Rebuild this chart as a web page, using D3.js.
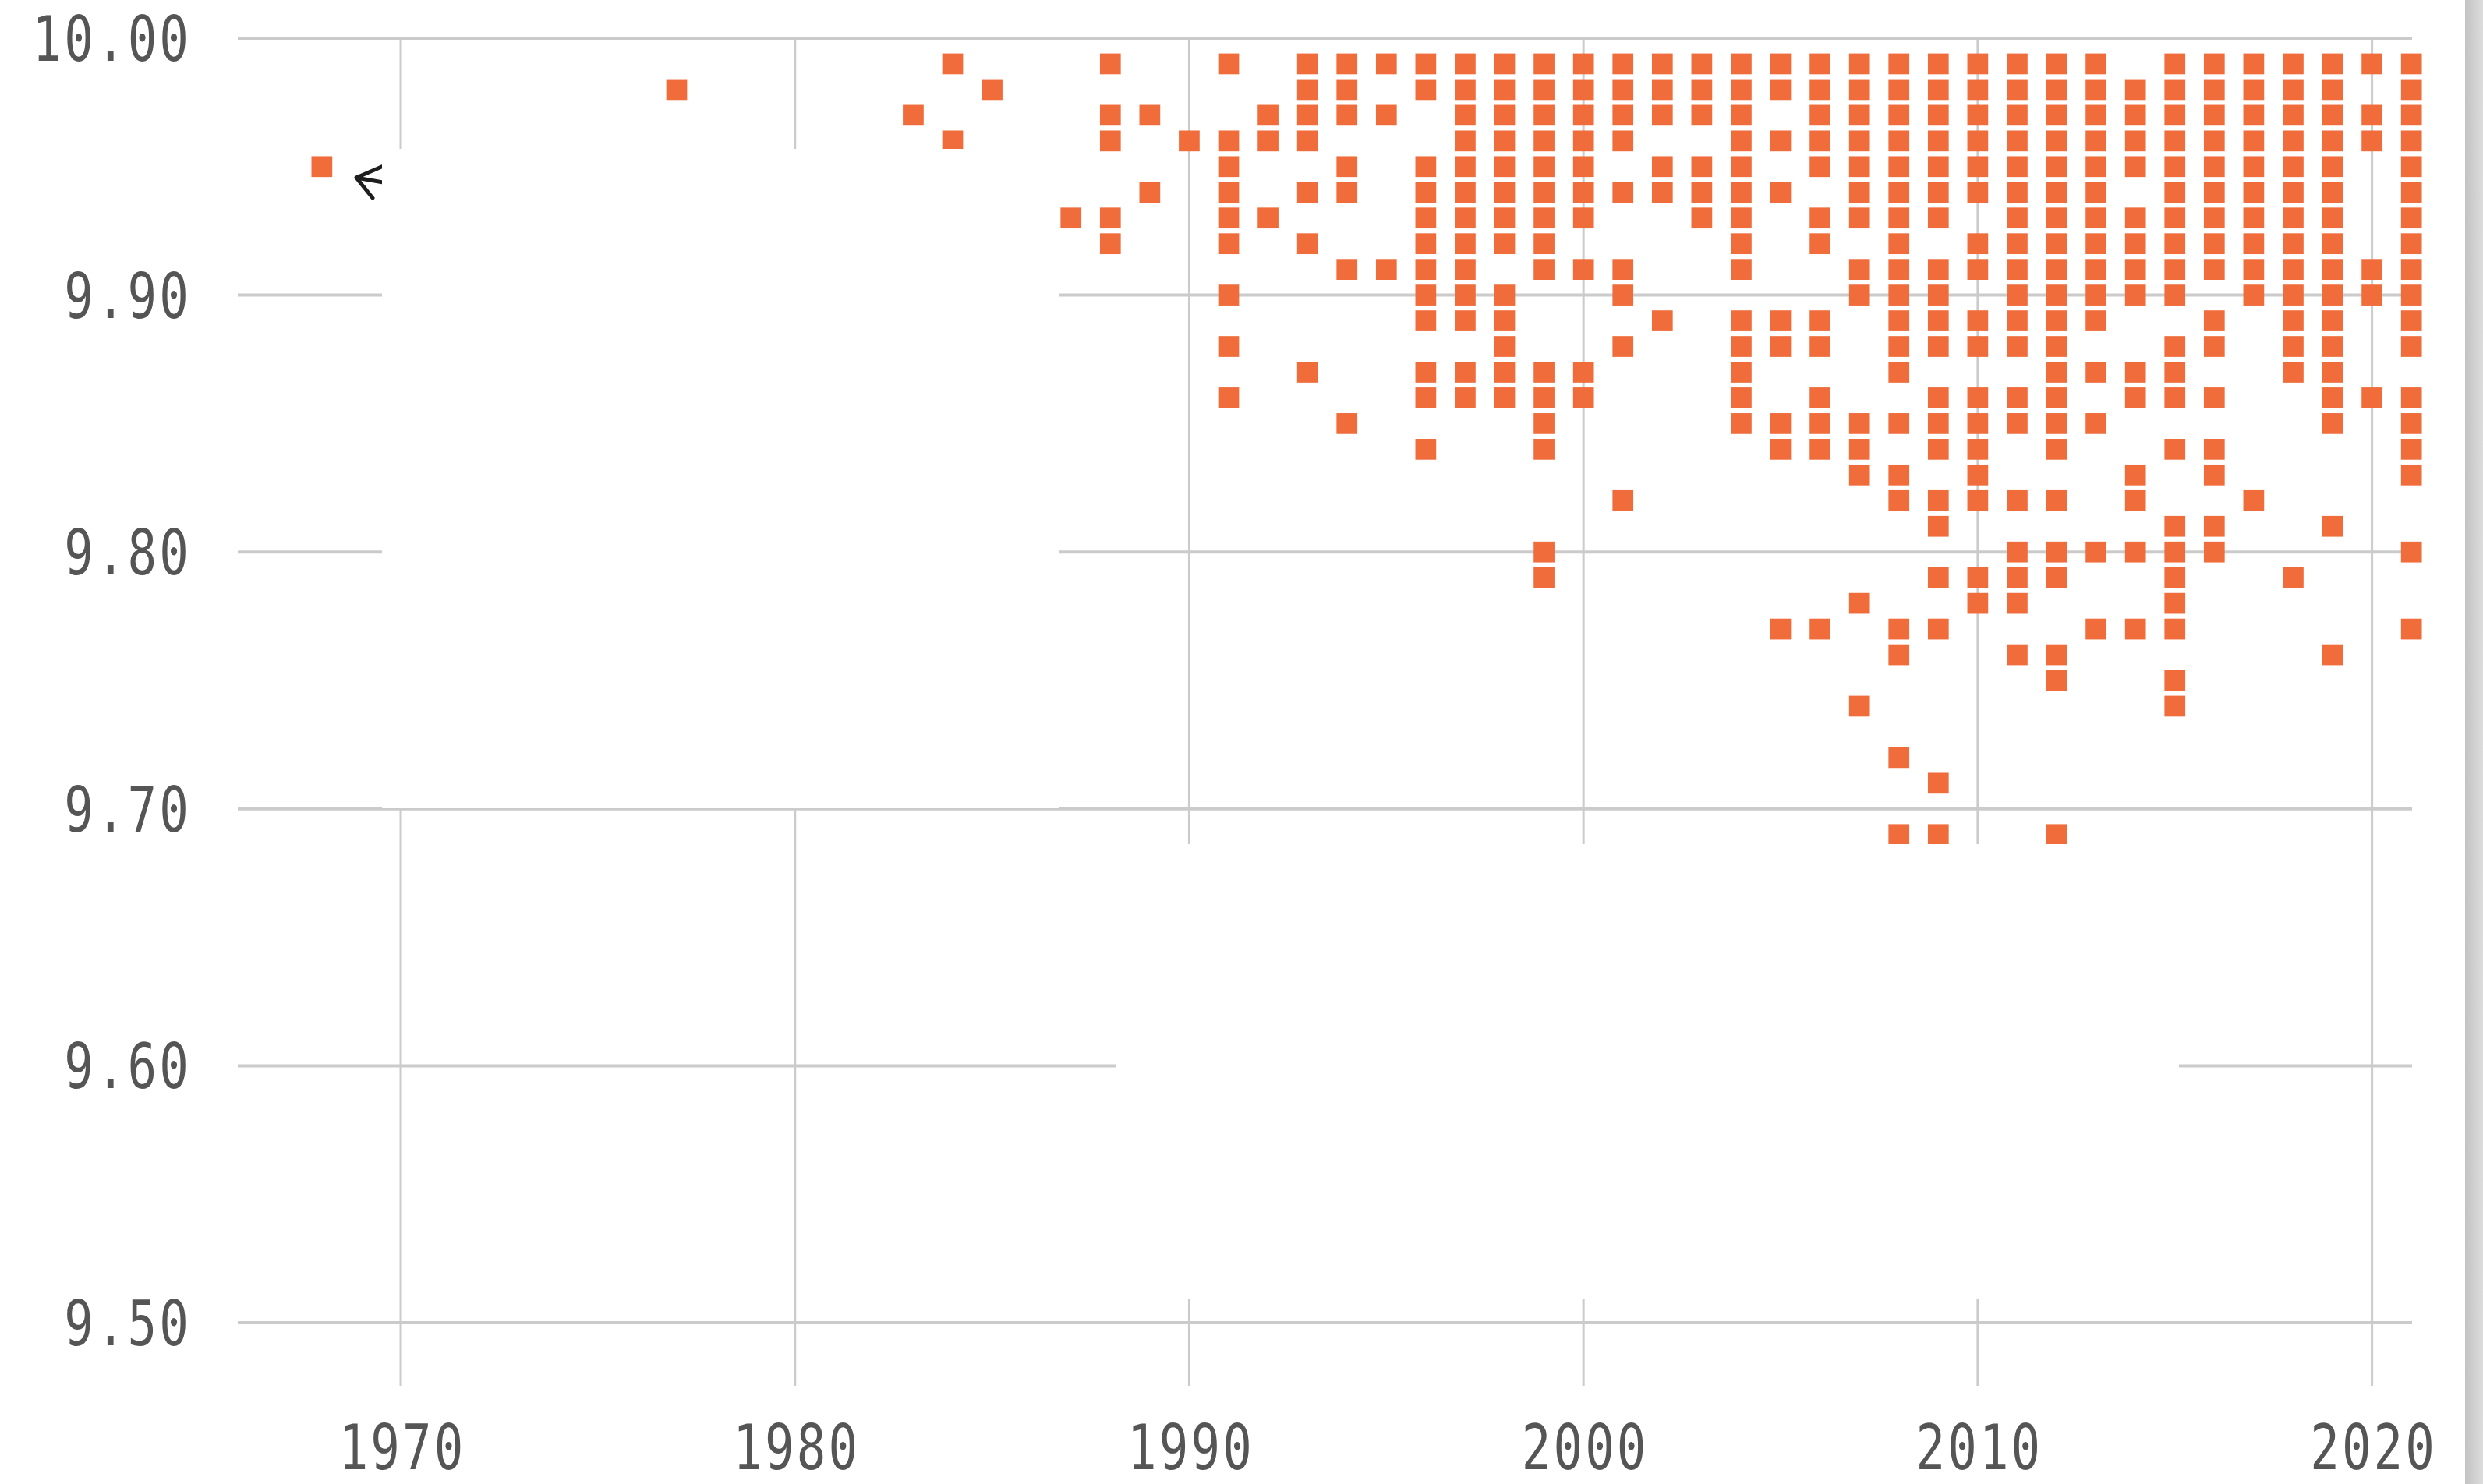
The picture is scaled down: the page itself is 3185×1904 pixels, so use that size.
<!DOCTYPE html>
<html>
<head>
<meta charset="utf-8">
<script src="https://cdn.jsdelivr.net/npm/d3@7/dist/d3.min.js"></script>
<style>
  body { margin: 0; background: #fff; }
  svg { display: block; }
  .label { font-family: "DejaVu Sans Mono", monospace; font-size: 80px; fill: #555; letter-spacing: 4px; }
  .grid line { stroke: #cbcbcb; }
</style>
</head>
<body>
<div id="chart"></div>
<script>
// sub-10 second times, one square per distinct time per year
var years = [1968, 1977, 1983, 1984, 1985, 1987, 1988, 1989, 1990, 1991, 1992, 1993, 1994, 1995,
  1996, 1997, 1998, 1999, 2000, 2001, 2002, 2003, 2004, 2005, 2006, 2007, 2008, 2009, 2010,
  2011, 2012, 2013, 2014, 2015, 2016, 2017, 2018, 2019, 2020, 2021];

var times = [
  [9.95],
  [9.98],
  [9.97],
  [9.99, 9.96],
  [9.98],
  [9.93],
  [9.99, 9.97, 9.96, 9.93, 9.92],
  [9.97, 9.94],
  [9.96],
  [9.99, 9.96, 9.95, 9.94, 9.93, 9.92, 9.90, 9.88, 9.86],
  [9.97, 9.96, 9.93],
  [9.99, 9.98, 9.97, 9.96, 9.94, 9.92, 9.87],
  [9.99, 9.98, 9.97, 9.95, 9.94, 9.91, 9.85],
  [9.99, 9.97, 9.91],
  [9.99, 9.98, 9.95, 9.94, 9.93, 9.92, 9.91, 9.90, 9.89, 9.87, 9.86, 9.84],
  [9.99, 9.98, 9.97, 9.96, 9.95, 9.94, 9.93, 9.92, 9.91, 9.90, 9.89, 9.87, 9.86],
  [9.99, 9.98, 9.97, 9.96, 9.95, 9.94, 9.93, 9.92, 9.90, 9.89, 9.88, 9.87, 9.86],
  [9.99, 9.98, 9.97, 9.96, 9.95, 9.94, 9.93, 9.92, 9.91, 9.87, 9.86, 9.85, 9.84, 9.80, 9.79],
  [9.99, 9.98, 9.97, 9.96, 9.95, 9.94, 9.93, 9.91, 9.87, 9.86],
  [9.99, 9.98, 9.97, 9.96, 9.94, 9.91, 9.90, 9.88, 9.82],
  [9.99, 9.98, 9.97, 9.95, 9.94, 9.89],
  [9.99, 9.98, 9.97, 9.95, 9.94, 9.93],
  [9.99, 9.98, 9.97, 9.96, 9.95, 9.94, 9.93, 9.92, 9.91, 9.89, 9.88, 9.87, 9.86, 9.85],
  [9.99, 9.98, 9.96, 9.94, 9.89, 9.88, 9.85, 9.84, 9.77],
  [9.99, 9.98, 9.97, 9.96, 9.95, 9.93, 9.92, 9.89, 9.88, 9.86, 9.85, 9.84, 9.77],
  [9.99, 9.98, 9.97, 9.96, 9.95, 9.94, 9.93, 9.91, 9.90, 9.85, 9.84, 9.83, 9.78, 9.74],
  [9.99, 9.98, 9.97, 9.96, 9.95, 9.94, 9.93, 9.92, 9.91, 9.90, 9.89, 9.88, 9.87, 9.85, 9.83, 9.82, 9.77, 9.76, 9.72, 9.69],
  [9.99, 9.98, 9.97, 9.96, 9.95, 9.94, 9.93, 9.91, 9.90, 9.89, 9.88, 9.86, 9.85, 9.84, 9.82, 9.81, 9.79, 9.77, 9.71, 9.69],
  [9.99, 9.98, 9.97, 9.96, 9.95, 9.94, 9.92, 9.91, 9.89, 9.88, 9.86, 9.85, 9.84, 9.83, 9.82, 9.79, 9.78],
  [9.99, 9.98, 9.97, 9.96, 9.95, 9.94, 9.93, 9.92, 9.91, 9.90, 9.89, 9.88, 9.86, 9.85, 9.82, 9.80, 9.79, 9.78, 9.76],
  [9.99, 9.98, 9.97, 9.96, 9.95, 9.94, 9.93, 9.92, 9.91, 9.90, 9.89, 9.88, 9.87, 9.86, 9.85, 9.84, 9.82, 9.80, 9.79, 9.76, 9.75, 9.69],
  [9.99, 9.98, 9.97, 9.96, 9.95, 9.94, 9.93, 9.92, 9.91, 9.90, 9.89, 9.87, 9.85, 9.80, 9.77],
  [9.98, 9.97, 9.96, 9.95, 9.93, 9.92, 9.91, 9.90, 9.87, 9.86, 9.83, 9.82, 9.80, 9.77],
  [9.99, 9.98, 9.97, 9.96, 9.95, 9.94, 9.93, 9.92, 9.91, 9.90, 9.88, 9.87, 9.86, 9.84, 9.81, 9.80, 9.79, 9.78, 9.77, 9.75, 9.74],
  [9.99, 9.98, 9.97, 9.96, 9.95, 9.94, 9.93, 9.92, 9.91, 9.89, 9.88, 9.86, 9.84, 9.83, 9.81, 9.80],
  [9.99, 9.98, 9.97, 9.96, 9.95, 9.94, 9.93, 9.92, 9.91, 9.90, 9.82],
  [9.99, 9.98, 9.97, 9.96, 9.95, 9.94, 9.93, 9.92, 9.91, 9.90, 9.89, 9.88, 9.87, 9.79],
  [9.99, 9.98, 9.97, 9.96, 9.95, 9.94, 9.93, 9.92, 9.91, 9.90, 9.89, 9.88, 9.87, 9.86, 9.85, 9.81, 9.76],
  [9.99, 9.97, 9.96, 9.91, 9.90, 9.86],
  [9.99, 9.98, 9.97, 9.96, 9.95, 9.94, 9.93, 9.92, 9.91, 9.90, 9.89, 9.88, 9.86, 9.85, 9.84, 9.83, 9.80, 9.77]
];

var yTicks = [10.00, 9.90, 9.80, 9.70, 9.60, 9.50];
var xTicks = [1970, 1980, 1990, 2000, 2010, 2020];

var width = 3185, height = 1904;
var left = 305, right = 3094;

var svg = d3.select("#chart").append("svg")
    .attr("width", width)
    .attr("height", height);

var x = d3.scaleLinear().domain([1970, 2020]).range([514, 3042.6]);
var y = d3.scaleLinear().domain([9.5, 10]).range([1697, 49]);
var fmt = d3.format(".2f");

// flatten into points
var points = [];
years.forEach(function(yr, i) {
    times[i].forEach(function(t) { points.push({year: yr, time: t}); });
});

var grid = svg.append("g").attr("class", "grid");

grid.selectAll(".vline")
    .data(xTicks)
    .enter().append("line")
    .attr("x1", d => x(d)).attr("x2", d => x(d))
    .attr("y1", y(10)).attr("y2", 1778)
    .attr("stroke-width", 3);

grid.selectAll(".hline")
    .data(yTicks)
    .enter().append("line")
    .attr("x1", left).attr("x2", right)
    .attr("y1", d => y(d)).attr("y2", d => y(d))
    .attr("stroke-width", 4);

// arrow next to the 1968 mark
svg.append("path")
    .attr("d", "M457,228 L560,246 M457,228 L494,212 M457,228 L478,254")
    .attr("fill", "none")
    .attr("stroke", "#1e1e1e")
    .attr("stroke-width", 5)
    .attr("stroke-linecap", "round");

var sz = 26.7;
svg.append("g").selectAll("rect")
    .data(points)
    .enter().append("rect")
    .attr("x", d => x(d.year) - sz / 2)
    .attr("y", d => y(d.time) - sz / 2)
    .attr("width", sz)
    .attr("height", sz)
    .attr("fill", "#f06c3b");

// blank panels that cover parts of the grid
svg.append("rect").attr("x", 490).attr("y", 191).attr("width", 868).attr("height", 846).attr("fill", "#fff");
svg.append("rect").attr("x", 1432).attr("y", 1083).attr("width", 1363).attr("height", 583).attr("fill", "#fff");

// y labels
svg.append("g").selectAll("g")
    .data(yTicks)
    .enter().append("g")
    .attr("transform", d => "translate(245," + (y(d) + 29) + ") scale(0.78,1)")
    .append("text")
    .attr("class", "label")
    .attr("text-anchor", "end")
    .text(d => fmt(d));

// x labels
svg.append("g").selectAll("g")
    .data(xTicks)
    .enter().append("g")
    .attr("transform", d => "translate(" + (x(d) + 2) + ",1885) scale(0.78,1)")
    .append("text")
    .attr("class", "label")
    .attr("text-anchor", "middle")
    .text(d => d);

// scrollbar strip at right edge
var grad = svg.append("defs").append("linearGradient").attr("id", "strip");
grad.append("stop").attr("offset", "0%").attr("stop-color", "#c3c3c3");
grad.append("stop").attr("offset", "100%").attr("stop-color", "#dcdcdc");
svg.append("rect").attr("x", 3162).attr("y", 0).attr("width", 23).attr("height", height).attr("fill", "url(#strip)");
</script>
</body>
</html>
